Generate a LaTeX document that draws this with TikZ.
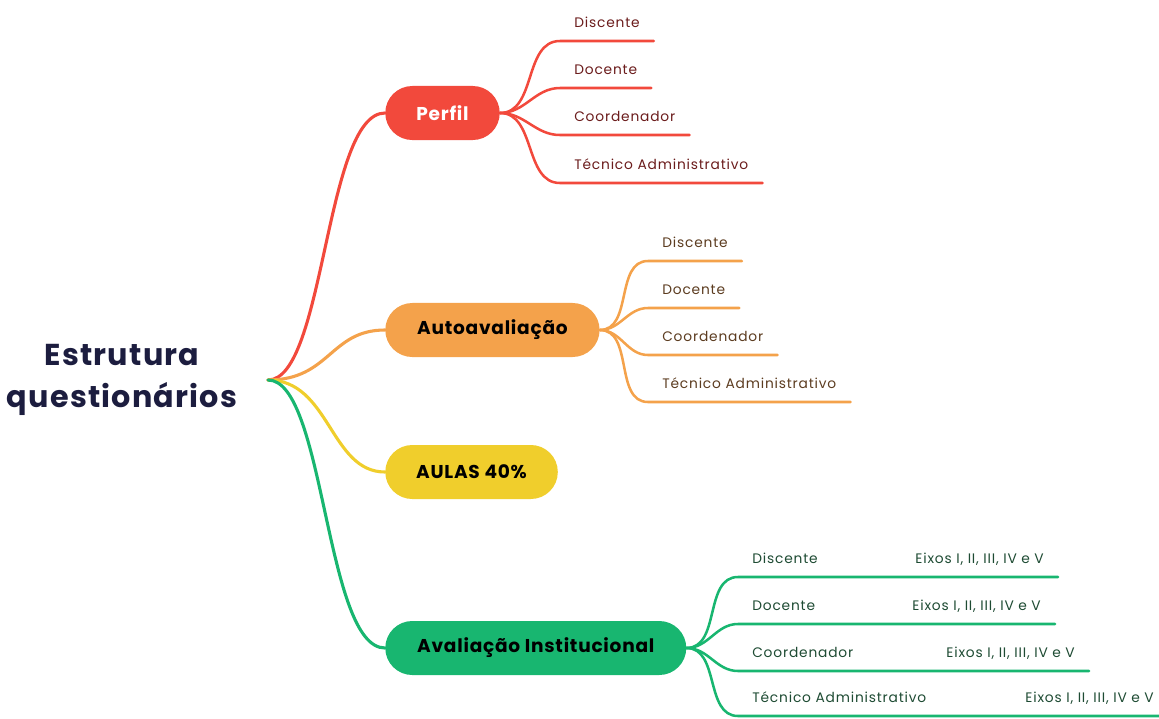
\documentclass[tikz,border=0pt]{standalone}
\usepackage{fontspec}
\setmainfont{Poppins}
\newfontfamily\leaffont{Poppins}[LetterSpace=6]
\newfontfamily\pillfont{Poppins}[LetterSpace=4]
\usetikzlibrary{shapes.misc}

\definecolor{perfilred}{RGB}{242,73,60}
\definecolor{autoorange}{RGB}{244,162,75}
\definecolor{aulasyellow}{RGB}{240,206,44}
\definecolor{instgreen}{RGB}{24,182,112}
\definecolor{rootink}{RGB}{28,29,63}
\definecolor{redink}{RGB}{107,28,28}
\definecolor{orangeink}{RGB}{92,60,32}
\definecolor{greenink}{RGB}{30,75,51}

\begin{document}
\begin{tikzpicture}[x=0.025cm, y=-0.025cm,
    pill/.style={rounded rectangle, fill=#1, minimum height=1.35cm, inner xsep=0.75cm,
        font=\pillfont\fontsize{13.2}{15}\selectfont\bfseries},
    leaf/.style={anchor=south west, text=#1, inner xsep=0.35cm, inner ysep=0.33cm,
        text depth=0pt, font=\leaffont\fontsize{9.8}{11}\selectfont},
    axes/.style={leaf=#1, anchor=south east},
    branch/.style={draw=#1, line width=2.2pt, line cap=round},
    twig/.style={draw=#1, line width=1.8pt, line cap=round}]
    \useasboundingbox (0,0) rectangle (1159,718);

    % centre
    \node[align=center, text=rootink, font=\pillfont\fontsize{21.5}{30}\selectfont\bfseries] (root) at (122,380) {Estrutura\\questionários};
    \coordinate (hub) at (268,380);

    % main topics
    \node[pill=perfilred, text=white, anchor=west] (perfil) at (385,113) {Perfil};
    \node[pill=autoorange, anchor=west] (auto) at (385,330) {Autoavaliação};
    \node[pill=aulasyellow, anchor=west] (aulas) at (385,472) {AULAS 40\%};
    \node[pill=instgreen, anchor=west] (inst) at (385,648) {Avaliação Institucional};

    \draw[branch=perfilred] (hub) .. controls (325,380) and (325,113) .. (perfil.west);
    \draw[branch=autoorange] (hub) .. controls (330,380) and (330,330) .. (auto.west);
    \draw[branch=aulasyellow] (hub) .. controls (330,380) and (330,472) .. (aulas.west);
    \draw[branch=instgreen] (hub) .. controls (325,380) and (325,648) .. (inst.west);

    % Perfil
    \node[leaf=redink] (p1) at (560,41) {Discente};
    \node[leaf=redink] (p2) at (560,88) {Docente};
    \node[leaf=redink] (p3) at (560,135) {Coordenador};
    \node[leaf=redink] (p4) at (560,183) {Técnico Administrativo};
    \foreach \n in {p1,p2,p3,p4}
        \draw[twig=perfilred] (perfil.east) to[out=0, in=180] (\n.south west) -- (\n.south east);

    % Autoavaliacao
    \node[leaf=orangeink] (a1) at (648,261) {Discente};
    \node[leaf=orangeink] (a2) at (648,308) {Docente};
    \node[leaf=orangeink] (a3) at (648,355) {Coordenador};
    \node[leaf=orangeink] (a4) at (648,402) {Técnico Administrativo};
    \foreach \n in {a1,a2,a3,a4}
        \draw[twig=autoorange] (auto.east) to[out=0, in=180] (\n.south west) -- (\n.south east);

    % Avaliacao Institucional
    \node[leaf=greenink] (i1) at (738,577) {Discente};
    \node[leaf=greenink] (i2) at (738,624) {Docente};
    \node[leaf=greenink] (i3) at (738,671) {Coordenador};
    \node[leaf=greenink] (i4) at (738,716) {Técnico Administrativo};
    \node[axes=greenink] (e1) at (1058,577) {Eixos I, II, III, IV e V};
    \node[axes=greenink] (e2) at (1055,624) {Eixos I, II, III, IV e V};
    \node[axes=greenink] (e3) at (1089,671) {Eixos I, II, III, IV e V};
    \node[axes=greenink] (e4) at (1168,716) {Eixos I, II, III, IV e V};
    \foreach \n/\m in {i1/e1,i2/e2,i3/e3,i4/e4}
        \draw[twig=instgreen] (inst.east) to[out=0, in=180] (\n.south west) -- (\m.south east);
\end{tikzpicture}
\end{document}
